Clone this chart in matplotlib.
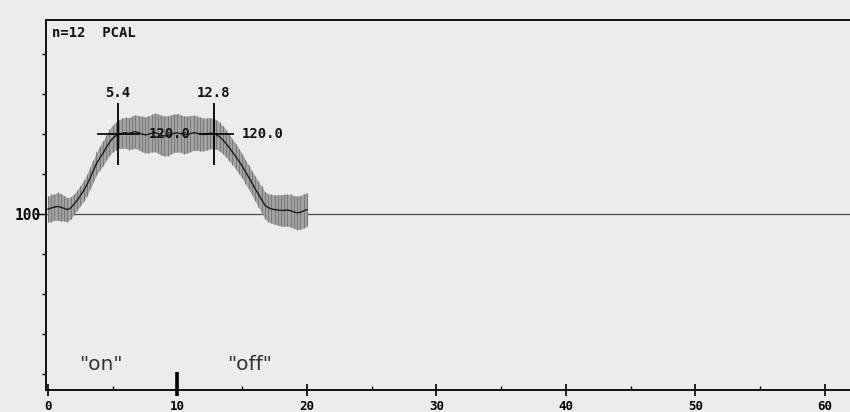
import numpy as np
import matplotlib
matplotlib.use("Agg")
import matplotlib.pyplot as plt
from matplotlib.ticker import MultipleLocator, FixedLocator

# Averaged response (percent of baseline) sampled every 0.25 s, n = 12
sample_step = 0.25
mean_pct = [
    101.2, 101.5, 101.7, 101.9, 101.7, 101.4, 101.1, 101.5,
    102.4, 103.4, 104.6, 105.8, 107.2, 109.0, 110.8, 112.6, 114.0, 115.2, 116.6, 117.9, 118.9,
    119.6, 120.0, 120.2, 120.3, 120.1, 120.4, 120.6, 120.3, 120.0, 119.8, 119.9, 120.2, 120.4,
    120.1, 119.7, 119.5, 119.6, 119.9, 120.2, 120.3, 120.1, 119.8, 119.9, 120.1, 120.3, 120.2,
    120.0, 119.9, 120.0, 120.2, 120.1,
    119.9, 119.3, 118.6, 117.6, 116.6, 115.5, 114.4, 113.2, 112.0, 110.6, 109.2, 107.8, 106.3,
    105.0, 103.6, 102.2, 101.6,
    101.3, 101.1, 101.0, 100.9, 100.9, 101.0, 100.8, 100.5, 100.3, 100.4, 100.8, 101.1,
]
sem_pct = [
    3.2, 3.4, 3.3, 3.5, 3.4, 3.2, 3.0, 2.8,
    2.6, 2.5, 2.5, 2.6, 2.7, 2.8, 2.8, 2.9, 3.0, 3.1, 3.2, 3.3, 3.4,
    3.5, 3.6, 3.8, 3.9, 4.0, 4.1, 4.2, 4.3, 4.4, 4.5, 4.6, 4.7, 4.8, 4.9, 5.0, 5.0, 5.0, 4.9,
    4.8, 4.8, 4.7, 4.7, 4.6, 4.5, 4.4, 4.3, 4.2, 4.1, 4.0, 3.9, 3.8,
    3.7, 3.6, 3.5, 3.4, 3.3, 3.2, 3.2, 3.1, 3.1, 3.0, 3.0, 3.0, 3.1, 3.2, 3.3, 3.4, 3.5,
    3.6, 3.7, 3.8, 3.9, 4.0, 4.0, 4.1, 4.1, 4.2, 4.2, 4.3, 4.2,
]
times = np.arange(len(mean_pct)) * sample_step

baseline = 100.0
onset_t, offset_t = 5.4, 12.8
plateau_level = 120.0
stim_on = 10.0

x_ticks = [0, 10, 20, 30, 40, 50, 60]
x_tick_labels = ["0", "10", "20", "30", "40", "50", "60"]
y_ticks = [60, 70, 80, 90, 100, 110, 120, 130, 140]

mean = np.array(mean_pct)
sem = np.array(sem_pct)

paper = "#ececec"
mono = "DejaVu Sans Mono"

fig = plt.figure(figsize=(8.5, 4.12), dpi=100, facecolor=paper)
ax = fig.add_axes([46 / 850, 22 / 412, 1 - 46 / 850 + 0.01, 370 / 412])
ax.set_facecolor(paper)
ax.set_xlim(-0.15, 62.6)
ax.set_ylim(56.0, 148.5)

# baseline reference
ax.axhline(baseline, color="#4a4a4a", lw=0.9, zorder=1)

# SEM band: grey fill with vertical error strokes at every sample
ax.fill_between(times, mean - sem, mean + sem, color="#a4a4a4", lw=0, zorder=2)
ax.vlines(times, mean - sem, mean + sem, color="#7a7a7a", lw=0.8, zorder=3)
ax.plot(times, mean, color="#1a1a1a", lw=1.0, zorder=4)

# onset / offset markers and plateau level
lab_kw = dict(family=mono, fontweight="bold", fontsize=10, color="#111111")
for t, lab in [(onset_t, "5.4"), (offset_t, "12.8")]:
    ax.vlines(t, 112.3, 127.8, color="black", lw=1.3, zorder=6)
    ax.text(t, 128.6, lab, ha="center", va="bottom", **lab_kw)
ax.hlines(plateau_level, 3.8, 9.4 - 2.3, color="black", lw=1.2, zorder=6)
ax.hlines(plateau_level, 9.4 + 2.3, 14.4, color="black", lw=1.2, zorder=6)
ax.text(9.4, plateau_level, "120.0", ha="center", va="center", zorder=7, **lab_kw)
ax.text(15.0, plateau_level, "120.0", ha="left", va="center", **lab_kw)

ax.text(0.35, 145.3, "n=12  PCAL", ha="left", va="center", **lab_kw)

# stimulus annotations
ax.text(4.1, 62.5, '"on"', ha="center", va="center", fontsize=14.5,
        color="#333333", family="DejaVu Sans")
ax.text(15.6, 62.5, '"off"', ha="center", va="center", fontsize=14.5,
        color="#333333", family="DejaVu Sans")
ax.vlines(stim_on, 54.5, 60.5, color="black", lw=2.6, clip_on=False, zorder=8)

# axes styling
for side in ["left", "bottom", "top"]:
    ax.spines[side].set_color("black")
    ax.spines[side].set_linewidth(1.3)
ax.spines["right"].set_visible(False)

ax.xaxis.set_major_locator(FixedLocator(x_ticks))
ax.set_xticklabels(x_tick_labels, family=mono, fontweight="bold", fontsize=9)
ax.xaxis.set_minor_locator(MultipleLocator(5))
ax.tick_params(axis="x", which="major", direction="inout", length=8, width=1.2, pad=3)
ax.tick_params(axis="x", which="minor", direction="in", length=3, width=1.0)

ax.yaxis.set_major_locator(FixedLocator(y_ticks))
ax.set_yticklabels(["" if v != baseline else "100" for v in y_ticks],
                   family=mono, fontweight="bold", fontsize=10.5)
ax.tick_params(axis="y", which="major", direction="out", length=3, width=1.0, pad=1)
ax.yaxis.get_major_ticks()[y_ticks.index(100)].tick1line.set_markersize(7)

fig.savefig("out.png", dpi=100, facecolor=paper)
